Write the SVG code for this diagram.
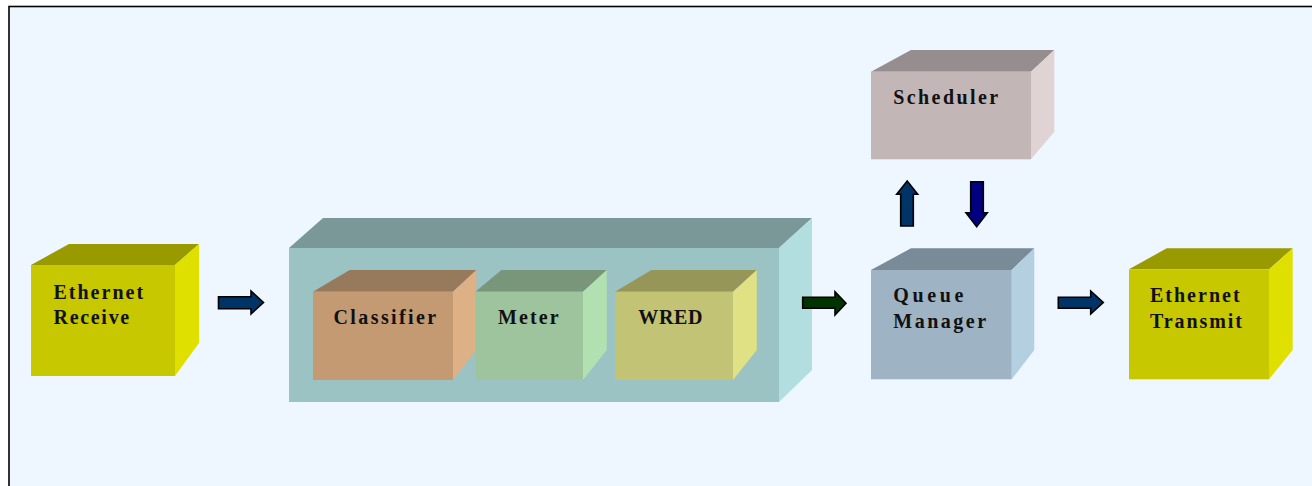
<svg xmlns="http://www.w3.org/2000/svg" width="1312" height="486" viewBox="0 0 1312 486">
  <style>
    .lbl { font-family: "Liberation Serif", "Times New Roman", serif; font-weight: bold; font-size: 20px; fill: #111; letter-spacing: 2px; }
    .arrow { stroke: #000; stroke-width: 1.6; stroke-linejoin: miter; }
  </style>
  <rect x="0" y="0" width="1312" height="486" fill="#ffffff"/>
  <!-- frame -->
  <rect x="9" y="6.5" width="1320" height="500" fill="#EEF6FF" stroke="#000" stroke-width="1.6"/>

  <!-- Ethernet Receive -->
  <g id="eth-rx">
    <polygon points="31,265 175,265 199,244 69,244" fill="#999900"/>
    <polygon points="175,265 199,244 199,343 175,376" fill="#E0E000"/>
    <rect x="31" y="265" width="144" height="111" fill="#C8C800"/>
    <text class="lbl" x="53.5" y="298.5">Ethernet</text>
    <text class="lbl" x="53.5" y="323.5" style="letter-spacing:1.7px">Receive</text>
  </g>

  <!-- Processing block: classifier, meter, WRED -->
  <g id="pipeline">
    <polygon points="289,248 779,248 812,218 323,218" fill="#7A9898"/>
    <polygon points="779,248 812,218 812,370 779,402" fill="#B3DEDF"/>
    <rect x="289" y="248" width="490" height="154" fill="#9BC3C4"/>
  </g>

  <g id="classifier">
    <polygon points="313,291.7 453,291.7 476.4,270 349.6,270" fill="#977A5C"/>
    <polygon points="453,291.7 476.4,270 476.4,350 453,380" fill="#DEB086"/>
    <rect x="313" y="291.7" width="140" height="88.3" fill="#C49A73"/>
    <text class="lbl" x="333.5" y="324.3" style="letter-spacing:2.4px">Classifier</text>
  </g>

  <g id="meter">
    <polygon points="475.4,291.7 583,291.7 606.8,270 501.4,270" fill="#7A967A"/>
    <polygon points="583,291.7 606.8,270 606.8,350 583,380" fill="#B1E0B1"/>
    <rect x="475.4" y="291.7" width="107.6" height="88.3" fill="#9DC49D"/>
    <text class="lbl" x="498" y="324.3" style="letter-spacing:2.1px">Meter</text>
  </g>

  <g id="wred">
    <polygon points="615,291.7 733,291.7 756.8,270 651.4,270" fill="#979659"/>
    <polygon points="733,291.7 756.8,270 756.8,350 733,380" fill="#E0E085"/>
    <rect x="615" y="291.7" width="118" height="88.3" fill="#C2C375"/>
    <text class="lbl" x="638.2" y="324.3" style="letter-spacing:0.7px">WRED</text>
  </g>

  <!-- Scheduler -->
  <g id="scheduler">
    <polygon points="871,71.7 1031,71.7 1054.3,50 911,50" fill="#968E8E"/>
    <polygon points="1031,71.7 1054.3,50 1054.3,131.7 1031,159.3" fill="#E0D3D3"/>
    <rect x="871" y="71.7" width="160" height="87.6" fill="#C3B6B6"/>
    <text class="lbl" x="893.3" y="104" style="letter-spacing:2.4px">Scheduler</text>
  </g>

  <!-- Queue Manager -->
  <g id="queue-manager">
    <polygon points="871,270 1011.7,270 1034.3,248.3 911,248.3" fill="#7A8B98"/>
    <polygon points="1011.7,270 1034.3,248.3 1034.3,350 1011.7,379.3" fill="#B4CFE0"/>
    <rect x="871" y="270" width="140.7" height="109.3" fill="#9EB3C4"/>
    <text class="lbl" x="893.3" y="302.3" style="letter-spacing:3.6px">Queue</text>
    <text class="lbl" x="893.3" y="327.7" style="letter-spacing:2.5px">Manager</text>
  </g>

  <!-- Ethernet Transmit -->
  <g id="eth-tx">
    <polygon points="1129,269.3 1269,269.3 1292.7,248.3 1166.7,248.3" fill="#999900"/>
    <polygon points="1269,269.3 1292.7,248.3 1292.7,350 1269,379.3" fill="#E0E000"/>
    <rect x="1129" y="269.3" width="140" height="110" fill="#C8C800"/>
    <text class="lbl" x="1150" y="302.3">Ethernet</text>
    <text class="lbl" x="1150" y="327.7" style="letter-spacing:1.9px">Transmit</text>
  </g>

  <!-- flow arrows -->
  <g id="connectors">
    <path class="arrow" fill="#003366" d="M218.5,296.7 H251 V291 L263.5,302.5 L251,314 V308.7 H218.5 Z"/>
    <path class="arrow" fill="#003300" d="M802.7,297.3 H835 V291.7 L846,303.3 L835,315 V308.3 H802.7 Z"/>
    <path class="arrow" fill="#003366" d="M1058.3,297.3 H1090.7 V291 L1103.3,302.5 L1090.7,314 V308.3 H1058.3 Z"/>
    <path class="arrow" fill="#003366" d="M900.7,226 V194.3 H896.7 L907.2,181 L917.7,194.3 H913.3 V226 Z"/>
    <path class="arrow" fill="#000080" d="M970.7,181.7 V212.7 H966 L976.7,226.7 L987.3,212.7 H983.3 V181.7 Z"/>
  </g>
</svg>
